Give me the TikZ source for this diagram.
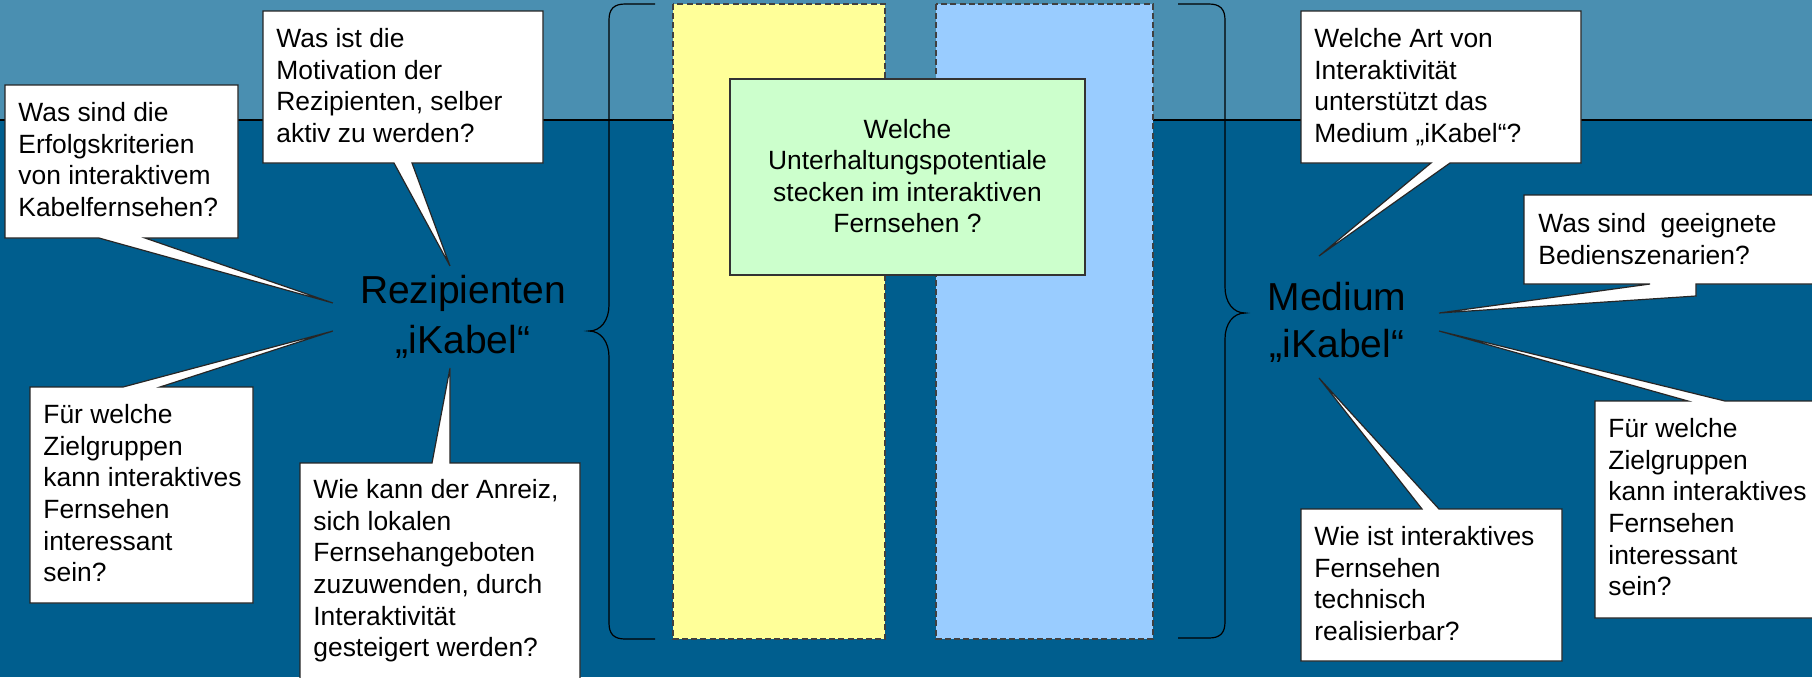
\documentclass[tikz,border=0pt]{standalone}
\usepackage{fontspec}
\setmainfont{Liberation Sans}
\definecolor{bgtop}{HTML}{4A8FB1}
\definecolor{bgbot}{HTML}{005E8E}
\definecolor{yel}{HTML}{FFFF99}
\definecolor{blu}{HTML}{99CCFF}
\definecolor{grn}{HTML}{CCFFCC}
\newcommand\CallFnt{\fontsize{13.2}{15.85}\selectfont}
\newcommand\GreenFnt{\fontsize{13.2}{15.7}\selectfont}
\newcommand\BigFntA{\fontsize{19.5}{25}\selectfont}
\newcommand\BigFntB{\fontsize{19.5}{23.5}\selectfont}
\newcommand\TopRule{\rule{0pt}{10pt}}
\tikzset{
  call/.style={fill=white, draw=black!85, line width=0.6pt, line join=miter},
  calltext/.style={anchor=north west, inner sep=0pt, align=left, font=\CallFnt, text=black},
  column/.style={draw=black!75, line width=0.6pt, dash pattern=on 3pt off 1.6pt},
  bracestroke/.style={draw=black, line width=0.6pt},
  bigtext/.style={anchor=north, align=center, inner sep=0pt, text=black},
}
\begin{document}
\begin{tikzpicture}[x=0.5pt,y=-0.5pt]
\useasboundingbox (0,0) rectangle (1812,677);
\begin{scope}
\clip (0,0) rectangle (1812,677);
% background
\fill[bgbot] (0,0) rectangle (1812,677);
\fill[bgtop] (0,0) rectangle (1812,120);
\draw[line width=1pt, black] (0,120) -- (1812,120);
% columns
\path[column, fill=yel] (673,4) rectangle (885,639);
\path[column, fill=blu] (936,4) rectangle (1153,639);
% green box
\draw[fill=grn, draw=black!80, line width=0.6pt] (730,79) rectangle (1085,275);
\node[anchor=north, align=center, inner sep=0pt, font=\GreenFnt] (q) at (907.5,118)
  {\TopRule Welche\\Unterhaltungspotentiale\\stecken im interaktiven\\Fernsehen ?};
% braces
\path[bracestroke] (655,4) -- (625,4) .. controls (614,4) and (609,9) .. (609,20)
  -- (609,305) .. controls (609,320) and (601,331) .. (589,331)
  .. controls (601,331) and (609,342) .. (609,357)
  -- (609,623) .. controls (609,634) and (614,639) .. (625,639) -- (655,639);
\path[bracestroke] (1178,4) -- (1209,4) .. controls (1220,4) and (1225,9) .. (1225,20)
  -- (1225,287) .. controls (1225,302) and (1233,313) .. (1245,313)
  .. controls (1233,313) and (1225,324) .. (1225,339)
  -- (1225,622) .. controls (1225,633) and (1220,638) .. (1209,638) -- (1178,638);
% big labels
\node[bigtext, font=\BigFntA] (rez) at (463,273) {\rule{0pt}{15pt}Rezipienten\\„iKabel“};
\node[bigtext, font=\BigFntB] (med) at (1337,280) {\rule{0pt}{15pt}Medium\\„iKabel“};
% callouts left
\path[call] (263,11) -- (543,11) -- (543,163) -- (412,163) -- (450,266) -- (394,163) -- (263,163) -- cycle;
\node[calltext] (c1) at (276,27) {\TopRule Was ist die\\Motivation der\\Rezipienten, selber\\aktiv zu werden?};
\path[call] (5,85) -- (238,85) -- (238,238) -- (145,238) -- (333,303) -- (99,238) -- (5,238) -- cycle;
\node[calltext] (c2) at (18,101) {\TopRule Was sind die\\Erfolgskriterien\\von interaktivem\\Kabelfernsehen?};
\path[call] (30,387) -- (123,387) -- (333,331) -- (160,387) -- (253,387) -- (253,603) -- (30,603) -- cycle;
\node[calltext] (c3) at (43,403) {\TopRule Für welche\\Zielgruppen\\kann interaktives\\Fernsehen\\interessant\\sein?};
\path[call] (300,463) -- (432,463) -- (450,368) -- (450,463) -- (580,463) -- (580,700) -- (300,700) -- cycle;
\node[calltext] (c4) at (313,478) {\TopRule Wie kann der Anreiz,\\sich lokalen\\Fernsehangeboten\\zuzuwenden, durch\\Interaktivität\\gesteigert werden?};
% callouts right
\path[call] (1301,11) -- (1581,11) -- (1581,163) -- (1450,163) -- (1319,256) -- (1431,163) -- (1301,163) -- cycle;
\node[calltext] (c5) at (1314,27) {\TopRule Welche Art von\\Interaktivität\\unterstützt das\\Medium „iKabel“?};
\path[call] (1524,195) -- (1840,195) -- (1840,284) -- (1696,284) -- (1696,296) -- (1439,313) -- (1650,284) -- (1524,284) -- cycle;
\node[calltext] (c6) at (1538,212) {\TopRule Was sind~ geeignete\\Bedienszenarien?};
\path[call] (1595,401) -- (1688,401) -- (1439,331) -- (1725,401) -- (1840,401) -- (1840,618) -- (1595,618) -- cycle;
\node[calltext] (c7) at (1608,417) {\TopRule Für welche\\Zielgruppen\\kann interaktives\\Fernsehen\\interessant\\sein?};
\path[call] (1301,509) -- (1422,509) -- (1319,378) -- (1439,509) -- (1562,509) -- (1562,661) -- (1301,661) -- cycle;
\node[calltext] (c8) at (1314,525) {\TopRule Wie ist interaktives\\Fernsehen\\technisch\\realisierbar?};
\end{scope}
\end{tikzpicture}
\end{document}
